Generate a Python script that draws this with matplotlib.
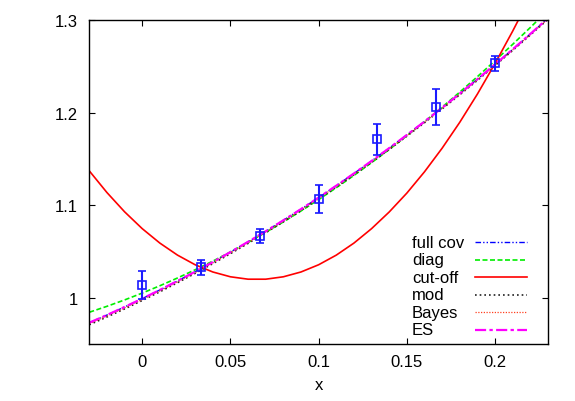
import matplotlib
matplotlib.use('Agg')
import matplotlib.pyplot as plt
import numpy as np

plt.rcParams['font.family'] = ['Liberation Sans', 'DejaVu Sans']

# measured points
x_pts = [0.0, 0.0333, 0.0667, 0.1, 0.1333, 0.1667, 0.2]
y_pts = [1.014, 1.033, 1.067, 1.107, 1.171, 1.206, 1.253]
y_err = [0.015, 0.008, 0.0075, 0.015, 0.017, 0.019, 0.0083]

# fit curves, values read every 0.01 from -0.03 to 0.23
x_curve = np.linspace(-0.03, 0.23, 27)
full_y = [0.9730, 0.9813, 0.9900, 0.9990, 1.0084, 1.0181, 1.0281, 1.0385, 1.0493,
          1.0604, 1.0718, 1.0836, 1.0957, 1.1082, 1.1210, 1.1342, 1.1477, 1.1616,
          1.1758, 1.1903, 1.2052, 1.2205, 1.2361, 1.2520, 1.2683, 1.2849, 1.3019]
diag_y = [0.9843, 0.9907, 0.9976, 1.0050, 1.0129, 1.0213, 1.0302, 1.0395, 1.0494,
          1.0597, 1.0706, 1.0819, 1.0937, 1.1060, 1.1188, 1.1321, 1.1459, 1.1601,
          1.1749, 1.1901, 1.2059, 1.2221, 1.2388, 1.2560, 1.2737, 1.2919, 1.3106]
cut_y = [1.1370, 1.1136, 1.0928, 1.0746, 1.0590, 1.0460, 1.0356, 1.0278, 1.0226,
         1.0200, 1.0200, 1.0226, 1.0278, 1.0356, 1.0460, 1.0590, 1.0746, 1.0926,
         1.1130, 1.1360, 1.1615, 1.1895, 1.2200, 1.2530, 1.2880, 1.3250, 1.3640]
mod_y = [0.9708, 0.9792, 0.9879, 0.9970, 1.0064, 1.0162, 1.0263, 1.0368, 1.0476,
         1.0587, 1.0702, 1.0820, 1.0942, 1.1067, 1.1196, 1.1328, 1.1463, 1.1602,
         1.1745, 1.1890, 1.2040, 1.2192, 1.2348, 1.2508, 1.2671, 1.2838, 1.3007]
bayes_y = [0.9719, 0.9803, 0.9890, 0.9980, 1.0074, 1.0171, 1.0272, 1.0376, 1.0484,
           1.0595, 1.0710, 1.0828, 1.0950, 1.1075, 1.1203, 1.1335, 1.1470, 1.1609,
           1.1751, 1.1897, 1.2046, 1.2199, 1.2355, 1.2514, 1.2677, 1.2843, 1.3013]
es_y = [0.9730, 0.9813, 0.9900, 0.9990, 1.0084, 1.0181, 1.0281, 1.0385, 1.0493,
        1.0604, 1.0718, 1.0836, 1.0957, 1.1082, 1.1210, 1.1342, 1.1477, 1.1616,
        1.1758, 1.1903, 1.2052, 1.2205, 1.2361, 1.2520, 1.2683, 1.2849, 1.3019]

labels = ['full cov', 'diag', 'cut-off', 'mod', 'Bayes', 'ES']
curves = [full_y, diag_y, cut_y, mod_y, bayes_y, es_y]
styles = [
    dict(color='#0000ff', lw=1.0, dashes=(4, 1.5, 1, 1.5, 1, 1.5)),
    dict(color='#00ee00', lw=1.2, dashes=(3, 1.5)),
    dict(color='#ff0000', lw=1.2, ls='-'),
    dict(color='#202020', lw=1.2, dashes=(1, 1.8)),
    dict(color='#ff4020', lw=0.9, dashes=(1, 1.2)),
    dict(color='#ff00ff', lw=1.6, dashes=(5, 1.5, 1.5, 1.5)),
]

fig = plt.figure(figsize=(5.75, 4.02), dpi=100)
ax = fig.add_axes([0.1553, 0.1418, 0.7977, 0.806])

for yc, st in zip(curves, styles):
    ax.plot(x_curve, yc, **st)

ax.errorbar(x_pts, y_pts, yerr=y_err, fmt='s', ms=5.5, mfc='none', mec='#1a1aff',
            mew=1.2, ecolor='#1a1aff', elinewidth=1.5, capsize=3, capthick=1.5, zorder=5)

# legend drawn gnuplot-style: text on the left, sample line on the right
for i, (lab, st) in enumerate(zip(labels, styles)):
    yy = 0.3133 - i * 0.054
    ax.text(0.7035, yy, lab, transform=ax.transAxes, fontsize=12, va='center', ha='left')
    ax.plot([0.8407, 0.9537], [yy, yy], transform=ax.transAxes, **st)

ax.set_xlim(-0.03, 0.23)
ax.set_ylim(0.95, 1.3)
ax.set_xticks([0, 0.05, 0.1, 0.15, 0.2])
ax.set_xticklabels(['0', '0.05', '0.1', '0.15', '0.2'])
ax.set_yticks([1.0, 1.1, 1.2, 1.3])
ax.set_yticklabels(['1', '1.1', '1.2', '1.3'])
ax.tick_params(direction='in', top=True, right=True, length=4, width=0.8, labelsize=12)
ax.tick_params(axis='x', pad=7)
ax.tick_params(axis='y', pad=8)
ax.set_xlabel('x', fontsize=12, labelpad=6)
for s in ax.spines.values():
    s.set_linewidth(1.0)

fig.savefig('out.png', dpi=100)
